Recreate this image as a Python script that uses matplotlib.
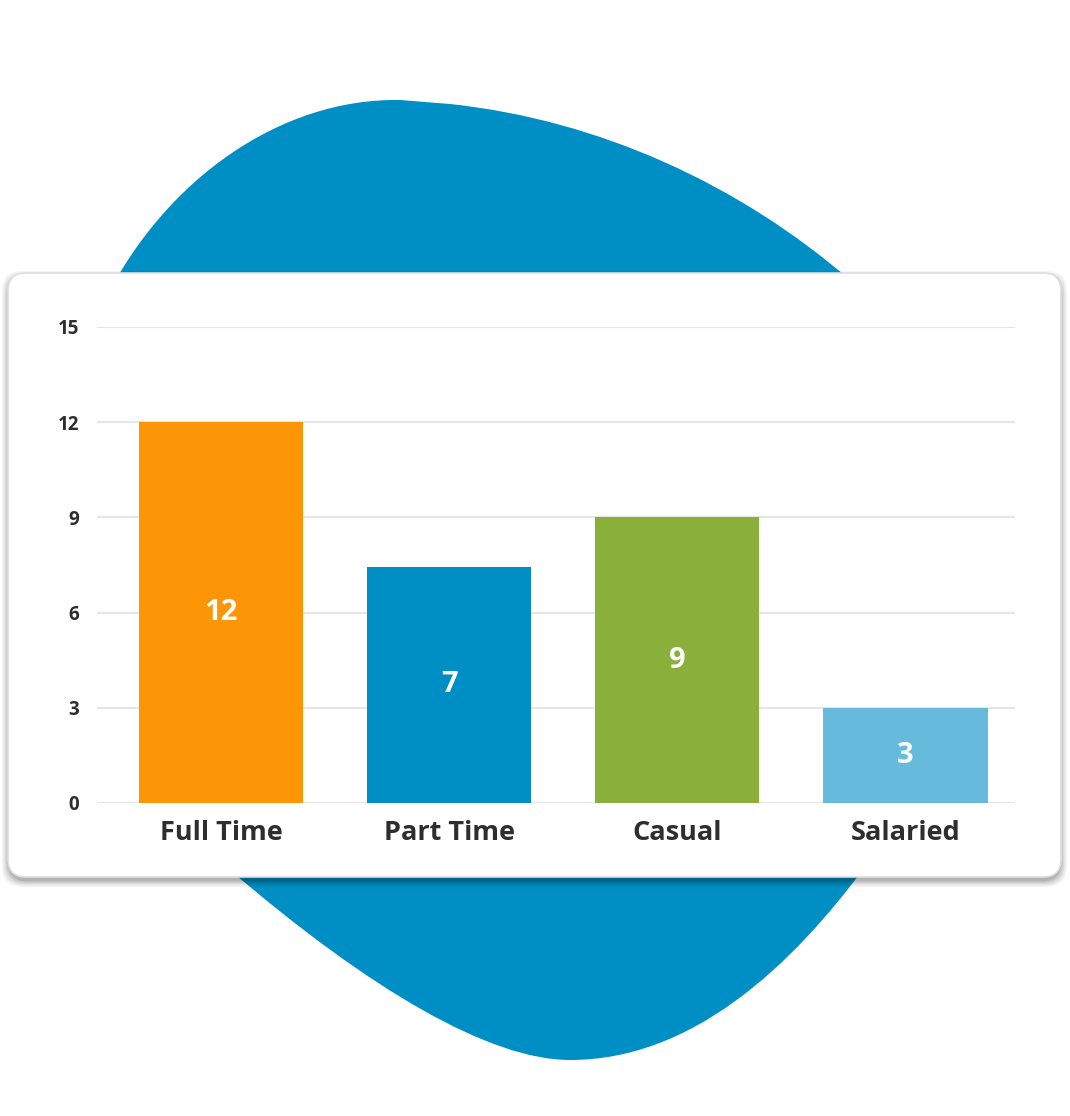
import matplotlib
matplotlib.use("Agg")
import matplotlib.pyplot as plt
from matplotlib.path import Path
from matplotlib.patches import PathPatch, FancyBboxPatch

# ---- data ----
categories = ["Full Time", "Part Time", "Casual", "Salaried"]
values = [12, 7.45, 9, 3]
value_labels = ["12", "7", "9", "3"]
bar_colors = ["#FD9606", "#008FC4", "#8AB03B", "#66BADB"]
yticks = [0, 3, 6, 9, 12, 15]

FONT = "Open Sans"
W, H = 1070, 1116
fig = plt.figure(figsize=(W / 100, H / 100), dpi=100)
fig.patch.set_facecolor("white")

# background decoration axes in pixel coordinates
bg = fig.add_axes([0, 0, 1, 1])
bg.set_xlim(0, W)
bg.set_ylim(H, 0)
bg.axis("off")

BLUE = "#008FC4"
verts = [
    (105, 300),
    (165, 180), (280, 98), (400, 100),
    (450, 104),
    (600, 120), (740, 185), (850, 280),
    (870, 860),
    (790, 970), (690, 1060), (570, 1060),
    (490, 1060), (370, 990), (230, 870),
    (105, 300),
]
codes = [Path.MOVETO,
         Path.CURVE4, Path.CURVE4, Path.CURVE4,
         Path.LINETO,
         Path.CURVE4, Path.CURVE4, Path.CURVE4,
         Path.LINETO,
         Path.CURVE4, Path.CURVE4, Path.CURVE4,
         Path.CURVE4, Path.CURVE4, Path.CURVE4,
         Path.CLOSEPOLY]
bg.add_patch(PathPatch(Path(verts, codes), facecolor=BLUE, edgecolor="none", zorder=1))

# card shadow
cx0, cy0, cx1, cy1 = 8, 273, 1061, 877
for i, a in enumerate([0.04, 0.05, 0.06, 0.08, 0.10]):
    grow = 7 - i * 1.4
    bg.add_patch(FancyBboxPatch((cx0 - grow + 1, cy0 - grow + 5), (cx1 - cx0) + 2 * grow - 2,
                                (cy1 - cy0) + 2 * grow - 2,
                                boxstyle="round,pad=0,rounding_size=20",
                                facecolor="black", edgecolor="none", alpha=a, zorder=2))
# card
bg.add_patch(FancyBboxPatch((cx0, cy0), cx1 - cx0, cy1 - cy0,
                            boxstyle="round,pad=0,rounding_size=18",
                            facecolor="white", edgecolor="#DEDEDE", linewidth=1.2, zorder=3))

# ---- chart axes ----
left, right = 97 / W, 1015 / W
bottom, top = 1 - 803 / H, 1 - 327 / H
ax = fig.add_axes([left, bottom, right - left, top - bottom])
ax.patch.set_alpha(0)

x = list(range(len(categories)))
ax.bar(x, values, width=0.72, color=bar_colors, zorder=3)
for xi, v, lab in zip(x, values, value_labels):
    ax.text(xi, v / 2, lab, ha="center", va="center", color="white",
            fontsize=21, fontweight="bold", family=FONT, zorder=4)

ax.set_ylim(0, 15)
ax.set_xlim(-0.544, 3.48)
ax.set_yticks(yticks)
ax.set_xticks(x)
ax.set_xticklabels(categories, fontsize=19.5, fontweight="bold", family=FONT, color="#2E2E2E")
for t in ax.get_yticklabels():
    t.set_family(FONT)
    t.set_fontsize(13.5)
    t.set_color("#2E2E2E")
    t.set_fontweight("bold")
ax.tick_params(axis="y", length=0, pad=13)
ax.tick_params(axis="x", length=0, pad=12)
ax.grid(axis="y", color="#E6E6E6", linewidth=1.5, zorder=0)
ax.set_axisbelow(True)
for s in ax.spines.values():
    s.set_visible(False)

fig.savefig("out.png", dpi=100, facecolor="white")
